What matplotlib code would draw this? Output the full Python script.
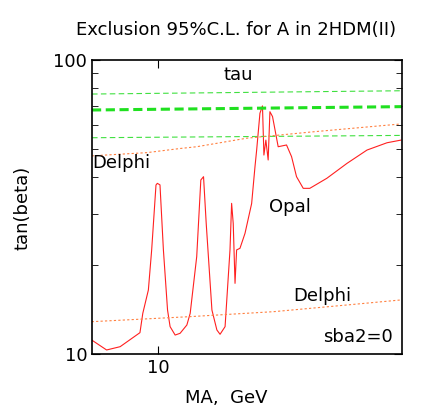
import matplotlib
matplotlib.use("Agg")
import matplotlib.pyplot as plt
from matplotlib.ticker import FixedLocator, NullFormatter, NullLocator

opal_x = [7.79, 8.24, 8.67, 9.34, 9.44, 9.64, 9.76, 9.92, 9.97, 10.07, 10.20, 10.36, 10.46, 10.66, 10.86,
          11.14, 11.28, 11.56, 11.74, 11.86, 11.98, 12.24, 12.47, 12.62, 12.86, 13.10, 13.18, 13.26, 13.35,
          13.43, 13.60, 13.86, 14.21, 14.39, 14.48, 14.66, 14.80, 14.88, 14.99, 15.12, 15.22, 15.37, 15.70,
          16.20, 16.51, 16.82, 17.25, 17.68, 18.85, 20.33, 21.92, 23.63, 24.9]
opal_y = [11.16, 10.32, 10.59, 11.82, 13.75, 16.51, 22.58, 37.57, 38.06, 37.6, 22.6, 14.11, 12.39, 11.60, 11.76,
          12.55, 13.75, 21.43, 39.07, 40.1, 27.8, 14.11, 12.07, 11.67, 12.39, 22.6, 32.54, 27.8, 17.39,
          22.6, 22.88, 25.73, 32.5, 43.4, 49.4, 65.9, 69.8, 47.5, 53.4, 45.7, 66.7, 64.2, 50.7,
          51.4, 46.9, 40.1, 36.6, 36.6, 39.6, 44.5, 49.4, 52.3, 53.4]
tau_x = [7.8, 25.0]
tau_top = [76.6, 78.6]
tau_mid = [67.6, 69.4]
tau_low = [54.4, 55.4]
delphi_up_x = [7.79, 9.58, 10.86, 11.56, 13.95, 17.93, 24.9]
delphi_up_y = [47.2, 48.4, 50.0, 50.7, 54.2, 57.0, 60.6]
delphi_lo_x = [7.79, 11.28, 15.43, 20.33, 24.9]
delphi_lo_y = [12.88, 13.4, 13.93, 14.68, 15.27]

FS = 13
fig = plt.figure(figsize=(4.36, 4.16), dpi=100)
ax = fig.add_axes([92/436, 1-354/416, 310/436, 294/416])
ax.set_xscale('log'); ax.set_yscale('log')
ax.set_xlim(7.8, 25.0); ax.set_ylim(10, 100)

ax.plot(opal_x, opal_y, color='#ff2020', lw=0.8)
ax.plot(tau_x, tau_top, color='#40e040', lw=0.8, dashes=(5, 3))
ax.plot(tau_x, tau_mid, color='#20e020', lw=2.2, dashes=(3, 1.5))
ax.plot(tau_x, tau_low, color='#40e040', lw=0.8, dashes=(5, 3))
ax.plot(delphi_up_x, delphi_up_y, color='#ff8040', lw=0.8, dashes=(2, 2))
ax.plot(delphi_lo_x, delphi_lo_y, color='#ff8040', lw=0.8, dashes=(2, 2))

ax.xaxis.set_major_locator(FixedLocator([10]))
ax.xaxis.set_minor_locator(NullLocator())
ax.set_xticklabels(['10'])
ax.yaxis.set_major_locator(FixedLocator([10, 100]))
ax.set_yticklabels(['10', '100'])
ax.yaxis.set_minor_formatter(NullFormatter())
ax.tick_params(which='both', direction='in', top=True, right=True, labelsize=FS)
ax.tick_params(which='major', length=6)
ax.tick_params(which='minor', length=4)
for s in ax.spines.values():
    s.set_linewidth(1.2)

def t(px, py, s, ha='center'):
    fig.text(px/436, 1-py/416, s, ha=ha, va='center', fontsize=FS)

t(236, 30, 'Exclusion 95%C.L. for A in 2HDM(II)')
t(238, 75, 'tau')
t(92, 163, 'Delphi', ha='left')
t(290, 207, 'Opal')
t(322, 296, 'Delphi')
t(358, 337, 'sba2=0')
t(226, 398, 'MA,  GeV')
fig.text(22/436, 1-208/416, 'tan(beta)', rotation=90, ha='center', va='center', fontsize=FS)
fig.savefig('out.png', dpi=100)
